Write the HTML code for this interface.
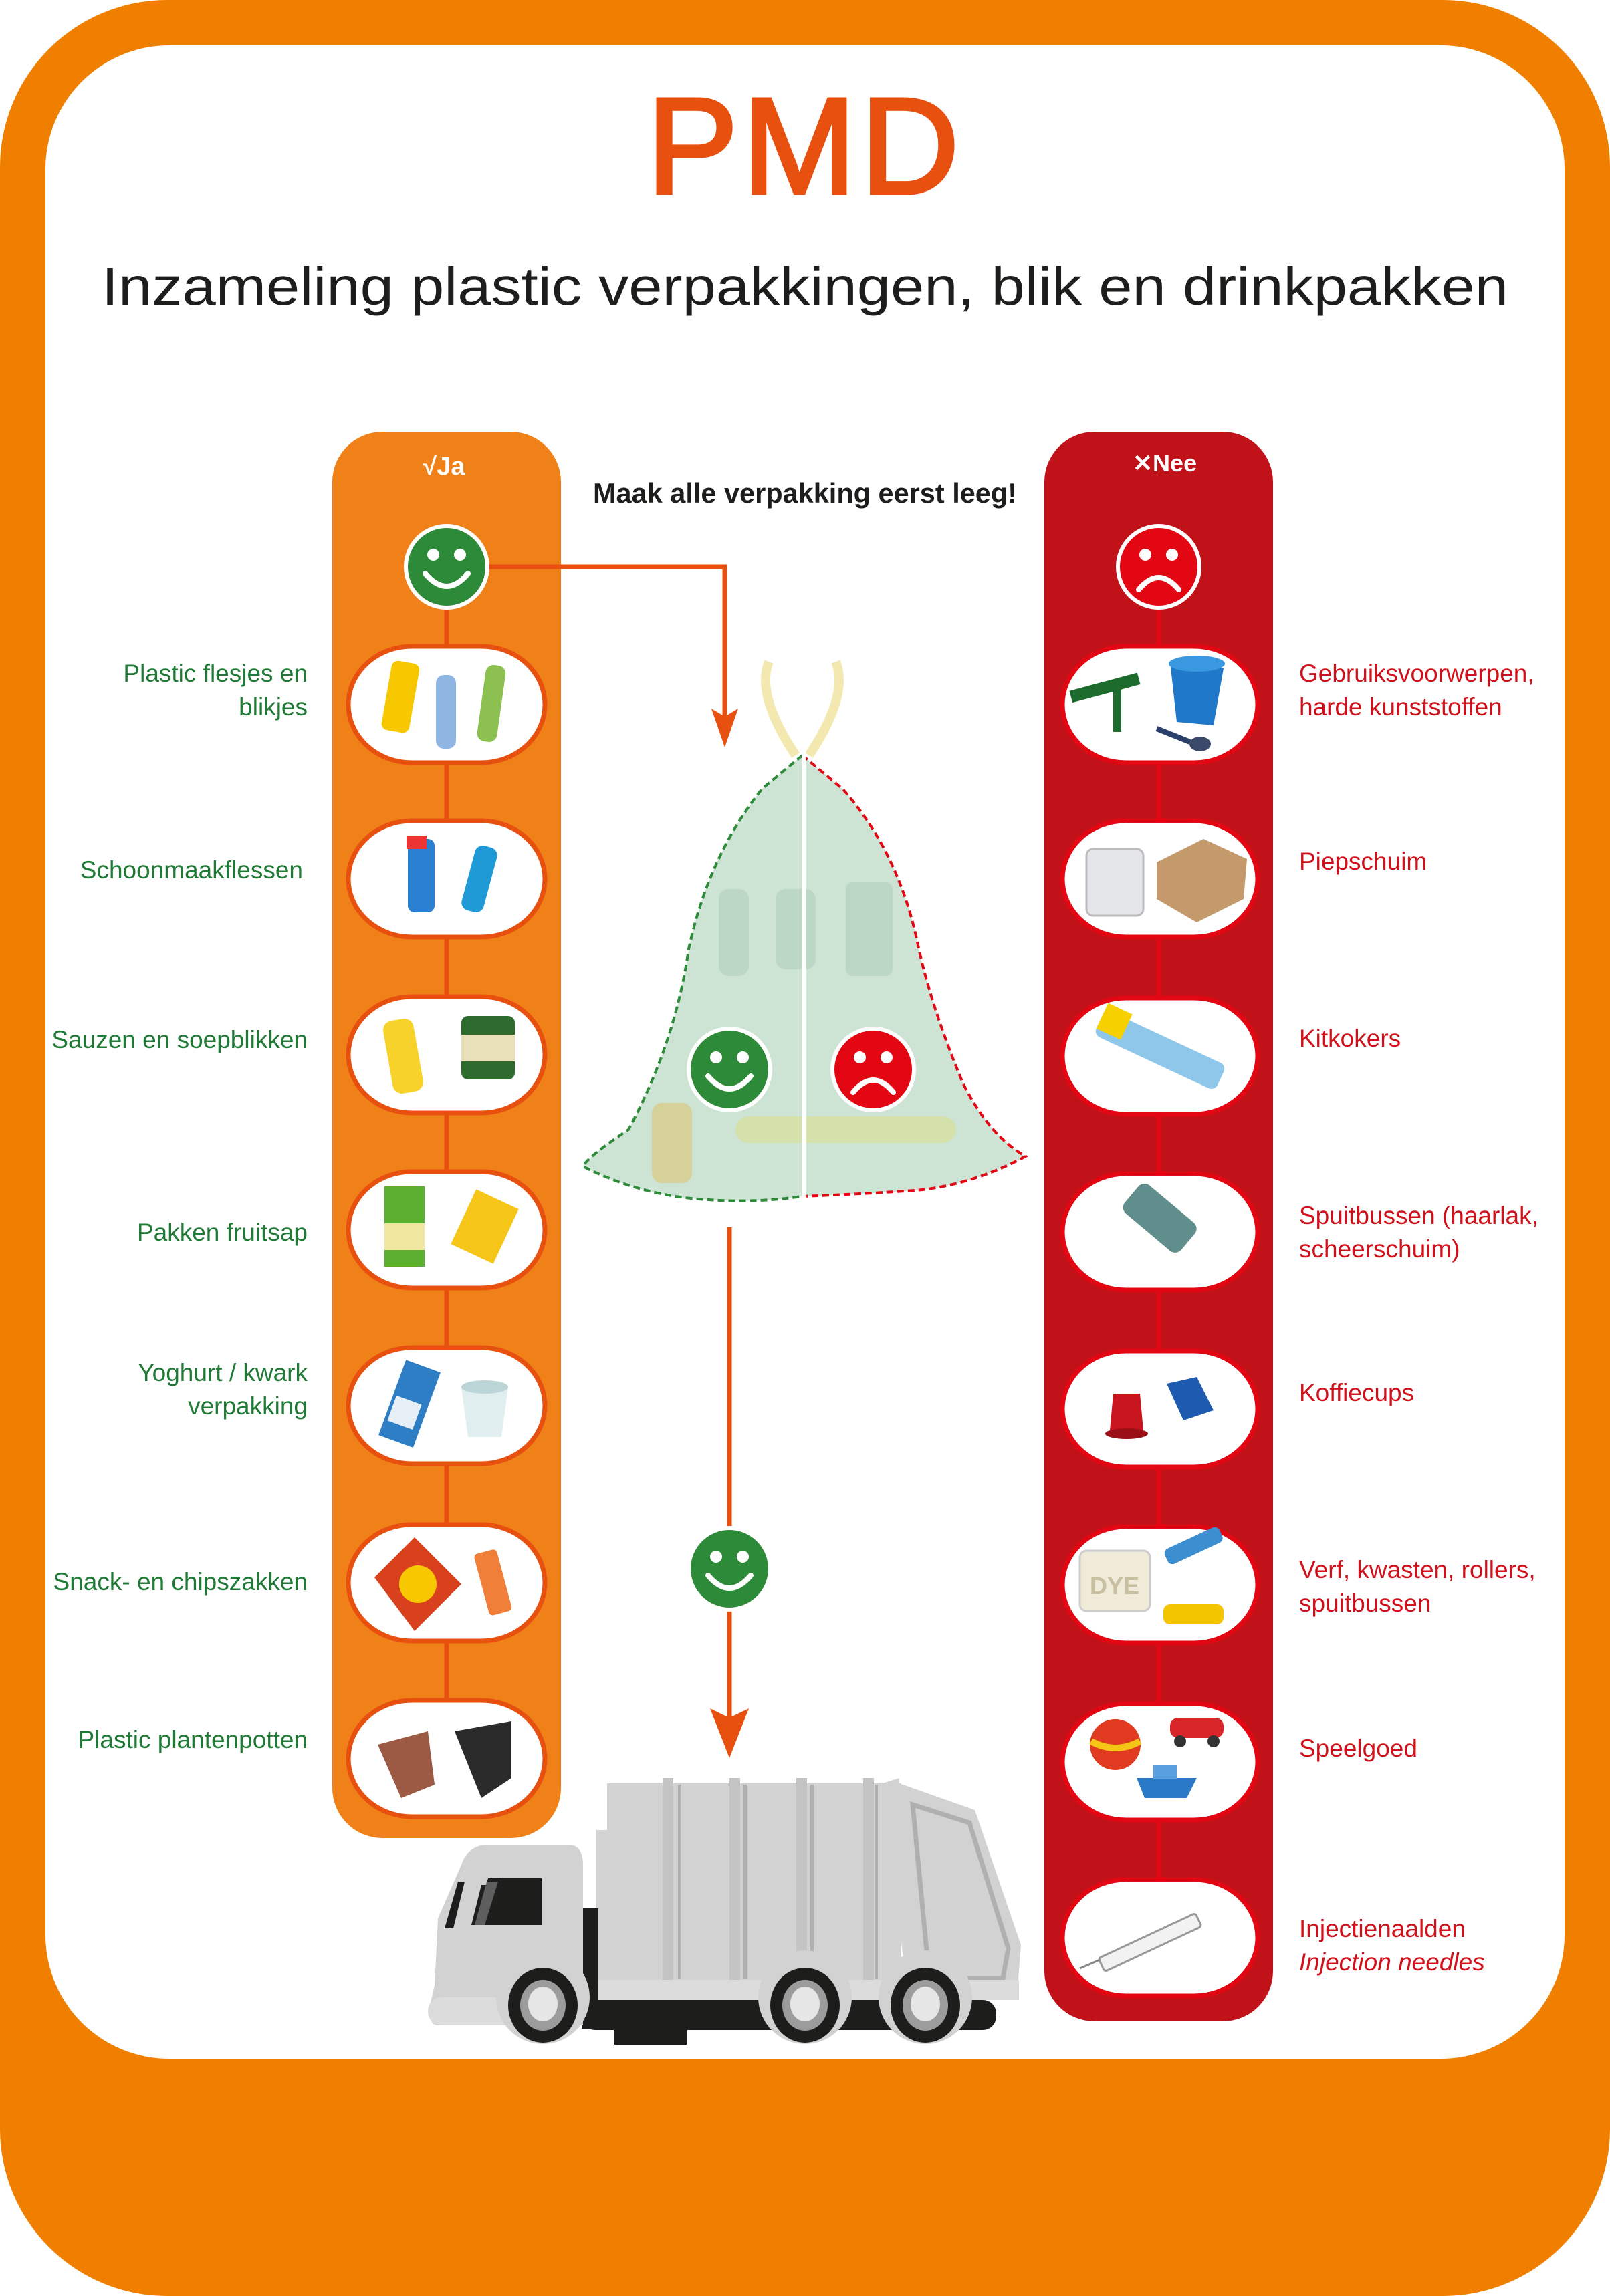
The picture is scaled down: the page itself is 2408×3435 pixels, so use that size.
<!DOCTYPE html>
<html><head><meta charset="utf-8"><style>
html,body{margin:0;padding:0;background:#fff}
svg{display:block}
text{font-family:"Liberation Sans",sans-serif}
</style></head><body>
<svg width="2408" height="3435" viewBox="0 0 2408 3435" xmlns="http://www.w3.org/2000/svg">
<defs>
<g id="smileG"><circle r="61" fill="#2c8a38" stroke="#fff" stroke-width="6"/><circle cx="-20" cy="-18" r="9" fill="#fff"/><circle cx="20" cy="-18" r="9" fill="#fff"/><path d="M-32 10 Q0 48 32 10" fill="none" stroke="#fff" stroke-width="8" stroke-linecap="round"/></g>
<g id="sadG"><circle r="61" fill="#e30613" stroke="#fff" stroke-width="6"/><circle cx="-20" cy="-18" r="9" fill="#fff"/><circle cx="20" cy="-18" r="9" fill="#fff"/><path d="M-30 34 Q0 -2 30 34" fill="none" stroke="#fff" stroke-width="8" stroke-linecap="round"/></g>
</defs>
<rect x="0" y="0" width="2408" height="3435" rx="250" fill="#f07f00"/>
<rect x="68" y="68" width="2272" height="3012" rx="185" fill="#fff"/>

<text x="1204" y="289" text-anchor="middle" font-size="205" fill="#e8500f" stroke="#e8500f" stroke-width="5" letter-spacing="6">PMD</text>
<text x="1204" y="456" text-anchor="middle" font-size="80" fill="#1d1d1b" textLength="2104" lengthAdjust="spacingAndGlyphs">Inzameling plastic verpakkingen, blik en drinkpakken</text>
<text x="1204" y="752" text-anchor="middle" font-size="42" font-weight="bold" fill="#1d1d1b" textLength="634" lengthAdjust="spacingAndGlyphs">Maak alle verpakking eerst leeg!</text>

<!-- Ja column -->
<rect x="497" y="646" width="342" height="2104" rx="75" fill="#ef8118"/>
<text x="664" y="710" text-anchor="middle" font-size="38" font-weight="bold" fill="#fff">√Ja</text>
<line x1="668" y1="848" x2="668" y2="2631" stroke="#e8500f" stroke-width="7"/>
<!-- Nee column -->
<rect x="1562" y="646" width="342" height="2378" rx="75" fill="#c1121a"/>
<text x="1742" y="705" text-anchor="middle" font-size="36" font-weight="bold" fill="#fff">✕Nee</text>
<line x1="1733" y1="848" x2="1733" y2="2899" stroke="#e30613" stroke-width="7"/>

<!-- orange arrow 1 -->
<polyline points="730,848 1084,848 1084,1080" fill="none" stroke="#e8500f" stroke-width="7"/>
<polygon points="1064,1060 1084,1118 1104,1060 1084,1072" fill="#e8500f"/>
<use href="#smileG" x="668" y="848"/>
<use href="#sadG" x="1733" y="848"/>

<!-- Ja pills -->
<g fill="#fff" stroke="#e8500f" stroke-width="7">
<rect x="521" y="967" width="294" height="174" rx="95"/>
<rect x="521" y="1228" width="294" height="174" rx="95"/>
<rect x="521" y="1491" width="294" height="174" rx="95"/>
<rect x="521" y="1753" width="294" height="174" rx="95"/>
<rect x="521" y="2016" width="294" height="174" rx="95"/>
<rect x="521" y="2281" width="294" height="174" rx="95"/>
<rect x="521" y="2544" width="294" height="174" rx="95"/>
</g>
<!-- Nee pills -->
<g fill="#fff" stroke="#e30613" stroke-width="7">
<rect x="1589" y="967" width="292" height="174" rx="95"/>
<rect x="1589" y="1228" width="292" height="174" rx="95"/>
<rect x="1589" y="1493" width="292" height="174" rx="95"/>
<rect x="1589" y="1756" width="292" height="174" rx="95"/>
<rect x="1589" y="2021" width="292" height="174" rx="95"/>
<rect x="1589" y="2284" width="292" height="174" rx="95"/>
<rect x="1589" y="2549" width="292" height="174" rx="95"/>
<rect x="1589" y="2812" width="292" height="174" rx="95"/>
</g>

<!-- Ja icons -->
<g>
<rect x="578" y="990" width="42" height="105" rx="10" fill="#f7c800" transform="rotate(10 599 1042)"/>
<rect x="652" y="1010" width="30" height="110" rx="12" fill="#8fb6e3"/>
<rect x="720" y="995" width="30" height="115" rx="12" fill="#8cc152" transform="rotate(8 735 1052)"/>
<rect x="610" y="1255" width="40" height="110" rx="10" fill="#2a7fd0"/><rect x="608" y="1250" width="30" height="20" fill="#e33"/>
<rect x="700" y="1265" width="34" height="100" rx="12" fill="#1f9ad6" transform="rotate(15 717 1315)"/>
<rect x="580" y="1525" width="46" height="110" rx="14" fill="#f7d22a" transform="rotate(-10 603 1580)"/>
<rect x="690" y="1520" width="80" height="95" rx="10" fill="#2d6b2f"/><rect x="690" y="1548" width="80" height="40" fill="#e8e0b8"/>
<rect x="575" y="1775" width="60" height="120" fill="#5cb030"/><rect x="575" y="1830" width="60" height="40" fill="#f0e6a0"/>
<rect x="690" y="1790" width="70" height="90" fill="#f5c518" transform="rotate(25 725 1835)"/>
<rect x="585" y="2040" width="55" height="120" fill="#2e7ec5" transform="rotate(20 612 2100)"/><rect x="590" y="2095" width="40" height="40" fill="#e6eef6" transform="rotate(20 612 2100)"/>
<path d="M690 2075 L760 2075 L750 2150 L700 2150 Z" fill="#e0eef0"/><ellipse cx="725" cy="2075" rx="35" ry="10" fill="#bcd6d8"/>
<path d="M560 2360 L620 2300 L690 2370 L620 2440 Z" fill="#d9411e"/><circle cx="625" cy="2370" r="28" fill="#f7c800"/>
<rect x="720" y="2320" width="35" height="95" rx="6" fill="#f07f3a" transform="rotate(-15 737 2368)"/>
<path d="M565 2610 L640 2590 L650 2670 L600 2690 Z" fill="#9c5a45"/>
<path d="M680 2590 L765 2575 L765 2660 L720 2690 Z" fill="#2b2b2b"/>
</g>
<!-- Nee icons -->
<g>
<rect x="1600" y="1020" width="105" height="18" fill="#1e6b2e" transform="rotate(-15 1652 1029)"/><rect x="1665" y="1030" width="12" height="65" fill="#1e6b2e"/>
<path d="M1750 990 L1830 1000 L1815 1085 L1760 1080 Z" fill="#1f78c8"/><ellipse cx="1790" cy="993" rx="42" ry="12" fill="#3a98e0"/>
<line x1="1730" y1="1090" x2="1780" y2="1110" stroke="#2b3f6b" stroke-width="8"/><ellipse cx="1795" cy="1113" rx="16" ry="11" fill="#3b4a6b"/>
<rect x="1625" y="1270" width="85" height="100" rx="10" fill="#e4e6ea" stroke="#bbb" stroke-width="3"/>
<path d="M1730 1290 L1800 1255 L1865 1285 L1860 1345 L1790 1380 L1730 1345 Z" fill="#c49a6c"/>
<rect x="1635" y="1550" width="200" height="42" rx="10" fill="#8fc7ea" transform="rotate(25 1735 1571)"/><rect x="1635" y="1540" width="40" height="42" fill="#f7d000" transform="rotate(25 1735 1571)"/>
<rect x="1680" y="1795" width="110" height="55" rx="12" fill="#5f8e8c" transform="rotate(40 1735 1822)"/>
<path d="M1665 2085 L1705 2085 L1710 2140 L1660 2140 Z" fill="#c9161e"/><ellipse cx="1685" cy="2145" rx="32" ry="8" fill="#9a1016"/>
<path d="M1745 2070 L1790 2060 L1815 2110 L1770 2125 Z" fill="#1e5bb0"/>
<rect x="1615" y="2320" width="105" height="90" rx="10" fill="#f0ead8" stroke="#ccc" stroke-width="3"/><text x="1667" y="2385" text-anchor="middle" font-size="36" fill="#c8bfa0" font-weight="bold">DYE</text>
<rect x="1740" y="2300" width="90" height="25" rx="8" fill="#3b8fd0" transform="rotate(-25 1785 2312)"/>
<rect x="1740" y="2400" width="90" height="30" rx="10" fill="#f3c400"/>
<circle cx="1668" cy="2610" r="38" fill="#e03a20"/><path d="M1632 2605 Q1668 2625 1705 2605" stroke="#f5c518" stroke-width="10" fill="none"/>
<rect x="1750" y="2570" width="80" height="30" rx="12" fill="#d9262b"/><circle cx="1765" cy="2605" r="9" fill="#333"/><circle cx="1815" cy="2605" r="9" fill="#333"/>
<path d="M1700 2660 L1790 2660 L1775 2690 L1712 2690 Z" fill="#2979c8"/><rect x="1725" y="2640" width="35" height="22" fill="#5aa0e0"/>
<rect x="1640" y="2895" width="160" height="22" rx="4" fill="#f2f2f2" stroke="#999" stroke-width="3" transform="rotate(-25 1720 2906)"/>
<line x1="1615" y1="2945" x2="1645" y2="2932" stroke="#888" stroke-width="3"/>
</g>

<!-- labels left -->
<g font-size="37" fill="#1f7a35" text-anchor="end">
<text x="460" y="1020">Plastic flesjes en</text>
<text x="460" y="1070">blikjes</text>
<text x="453" y="1314">Schoonmaakflessen</text>
<text x="460" y="1568">Sauzen en soepblikken</text>
<text x="460" y="1856">Pakken fruitsap</text>
<text x="460" y="2066">Yoghurt / kwark</text>
<text x="460" y="2116">verpakking</text>
<text x="460" y="2379">Snack- en chipszakken</text>
<text x="460" y="2615">Plastic plantenpotten</text>
</g>
<!-- labels right -->
<g font-size="37" fill="#d0101a">
<text x="1943" y="1020">Gebruiksvoorwerpen,</text>
<text x="1943" y="1070">harde kunststoffen</text>
<text x="1943" y="1301">Piepschuim</text>
<text x="1943" y="1566">Kitkokers</text>
<text x="1943" y="1831">Spuitbussen (haarlak,</text>
<text x="1943" y="1881">scheerschuim)</text>
<text x="1943" y="2096">Koffiecups</text>
<text x="1943" y="2361">Verf, kwasten, rollers,</text>
<text x="1943" y="2411">spuitbussen</text>
<text x="1943" y="2628">Speelgoed</text>
<text x="1943" y="2898">Injectienaalden</text>
<text x="1943" y="2948" font-style="italic">Injection needles</text>
</g>

<!-- bag -->
<path d="M1150 990 Q1130 1040 1190 1130 M1250 990 Q1270 1040 1210 1130" stroke="#f3e9b0" stroke-width="14" fill="none"/>
<path d="M1200 1130 L1140 1180 Q1060 1280 1030 1420 Q1010 1560 940 1690 Q880 1730 872 1745 Q960 1790 1060 1795 Q1130 1800 1200 1790 Q1320 1785 1380 1780 Q1460 1770 1534 1730 Q1480 1700 1440 1620 Q1390 1500 1370 1400 Q1340 1270 1260 1180 Z" fill="#cde3d4" stroke="none"/>
<path d="M1200 1130 L1140 1180 Q1060 1280 1030 1420 Q1010 1560 940 1690 Q880 1730 872 1745 Q960 1790 1060 1795 Q1130 1800 1200 1790" fill="none" stroke="#2c8a38" stroke-width="4" stroke-dasharray="10 6"/>
<path d="M1200 1130 L1260 1180 Q1340 1270 1370 1400 Q1390 1500 1440 1620 Q1480 1700 1534 1730 Q1460 1770 1380 1780 Q1320 1785 1200 1790" fill="none" stroke="#e30613" stroke-width="4" stroke-dasharray="10 6"/>
<rect x="1075" y="1330" width="45" height="130" rx="15" fill="#b9d3c0" opacity="0.8"/>
<rect x="1160" y="1330" width="60" height="120" rx="15" fill="#b9d3c0" opacity="0.8"/>
<rect x="1265" y="1320" width="70" height="140" rx="10" fill="#b9d3c0" opacity="0.8"/>
<rect x="975" y="1650" width="60" height="120" rx="15" fill="#d8cb8a" opacity="0.8"/>
<rect x="1100" y="1670" width="330" height="40" rx="20" fill="#d7df9a" opacity="0.7"/>
<line x1="1202" y1="1120" x2="1202" y2="1795" stroke="#fff" stroke-width="6"/>
<use href="#smileG" x="1091" y="1600"/>
<use href="#sadG" x="1306" y="1600"/>

<!-- arrow 2 -->
<line x1="1091" y1="1836" x2="1091" y2="2600" stroke="#e8500f" stroke-width="7"/>
<polygon points="1062,2556 1091,2630 1120,2556 1091,2570" fill="#e8500f"/>
<use href="#smileG" x="1091" y="2347"/>

<!-- truck -->
<g>
<rect x="908" y="2668" width="440" height="300" fill="#d2d2d2"/>
<rect x="892" y="2738" width="20" height="230" fill="#d2d2d2"/>
<g fill="#c4c4c4"><rect x="991" y="2660" width="16" height="305"/><rect x="1091" y="2660" width="16" height="305"/><rect x="1191" y="2660" width="16" height="305"/><rect x="1291" y="2660" width="16" height="305"/></g>
<g fill="#b0b0b0"><rect x="1014" y="2670" width="5" height="290"/><rect x="1112" y="2670" width="5" height="290"/><rect x="1212" y="2670" width="5" height="290"/><rect x="1308" y="2670" width="5" height="290"/></g>
<path d="M1320 2668 L1345 2660 L1345 2668 L1458 2708 L1527 2910 L1522 2973 L1356 2973 Z" fill="#d2d2d2"/>
<path d="M1365 2700 L1450 2727 L1508 2915 L1500 2960 L1390 2960 Z" fill="none" stroke="#b0b0b0" stroke-width="7"/>
<rect x="887" y="2962" width="637" height="30" fill="#dcdcdc"/>
<rect x="870" y="2855" width="25" height="180" fill="#1d1d1b"/>
<rect x="870" y="2992" width="620" height="45" rx="20" fill="#1d1d1b"/>
<rect x="918" y="3030" width="110" height="30" rx="4" fill="#1d1d1b"/>
<path d="M690 2790 Q700 2760 730 2760 L850 2760 Q872 2760 872 2790 L872 3030 L655 3030 Q640 3030 643 3000 L650 2970 L655 2870 Z" fill="#d2d2d2"/>
<path d="M720 2820 L765 2820 L765 2880 L705 2880 Z" fill="#1d1d1b"/>
<path d="M730 2810 L810 2810 L810 2880 L712 2880 Z" fill="#1d1d1b"/>
<rect x="775" y="2810" width="35" height="70" rx="4" fill="#1d1d1b"/>
<path d="M728 2815 L745 2815 L725 2880 L710 2880 Z" fill="#5e5e5e"/>
<path d="M685 2815 L695 2815 L678 2885 L665 2885 Z" fill="#1d1d1b"/>
<rect x="640" y="2988" width="140" height="42" rx="20" fill="#dcdcdc"/>
<g>
<circle cx="812" cy="2988" r="70" fill="#d2d2d2"/>
<ellipse cx="812" cy="3000" rx="52" ry="56" fill="#1d1d1b"/><ellipse cx="812" cy="3000" rx="34" ry="38" fill="#9c9c9c"/><ellipse cx="812" cy="2998" rx="22" ry="26" fill="#e6e6e6"/>
<circle cx="1204" cy="2988" r="70" fill="#d2d2d2"/>
<ellipse cx="1204" cy="3000" rx="52" ry="56" fill="#1d1d1b"/><ellipse cx="1204" cy="3000" rx="34" ry="38" fill="#9c9c9c"/><ellipse cx="1204" cy="2998" rx="22" ry="26" fill="#e6e6e6"/>
<circle cx="1384" cy="2988" r="70" fill="#d2d2d2"/>
<ellipse cx="1384" cy="3000" rx="52" ry="56" fill="#1d1d1b"/><ellipse cx="1384" cy="3000" rx="34" ry="38" fill="#9c9c9c"/><ellipse cx="1384" cy="2998" rx="22" ry="26" fill="#e6e6e6"/>
</g>
</g>
</svg>
</body></html>
